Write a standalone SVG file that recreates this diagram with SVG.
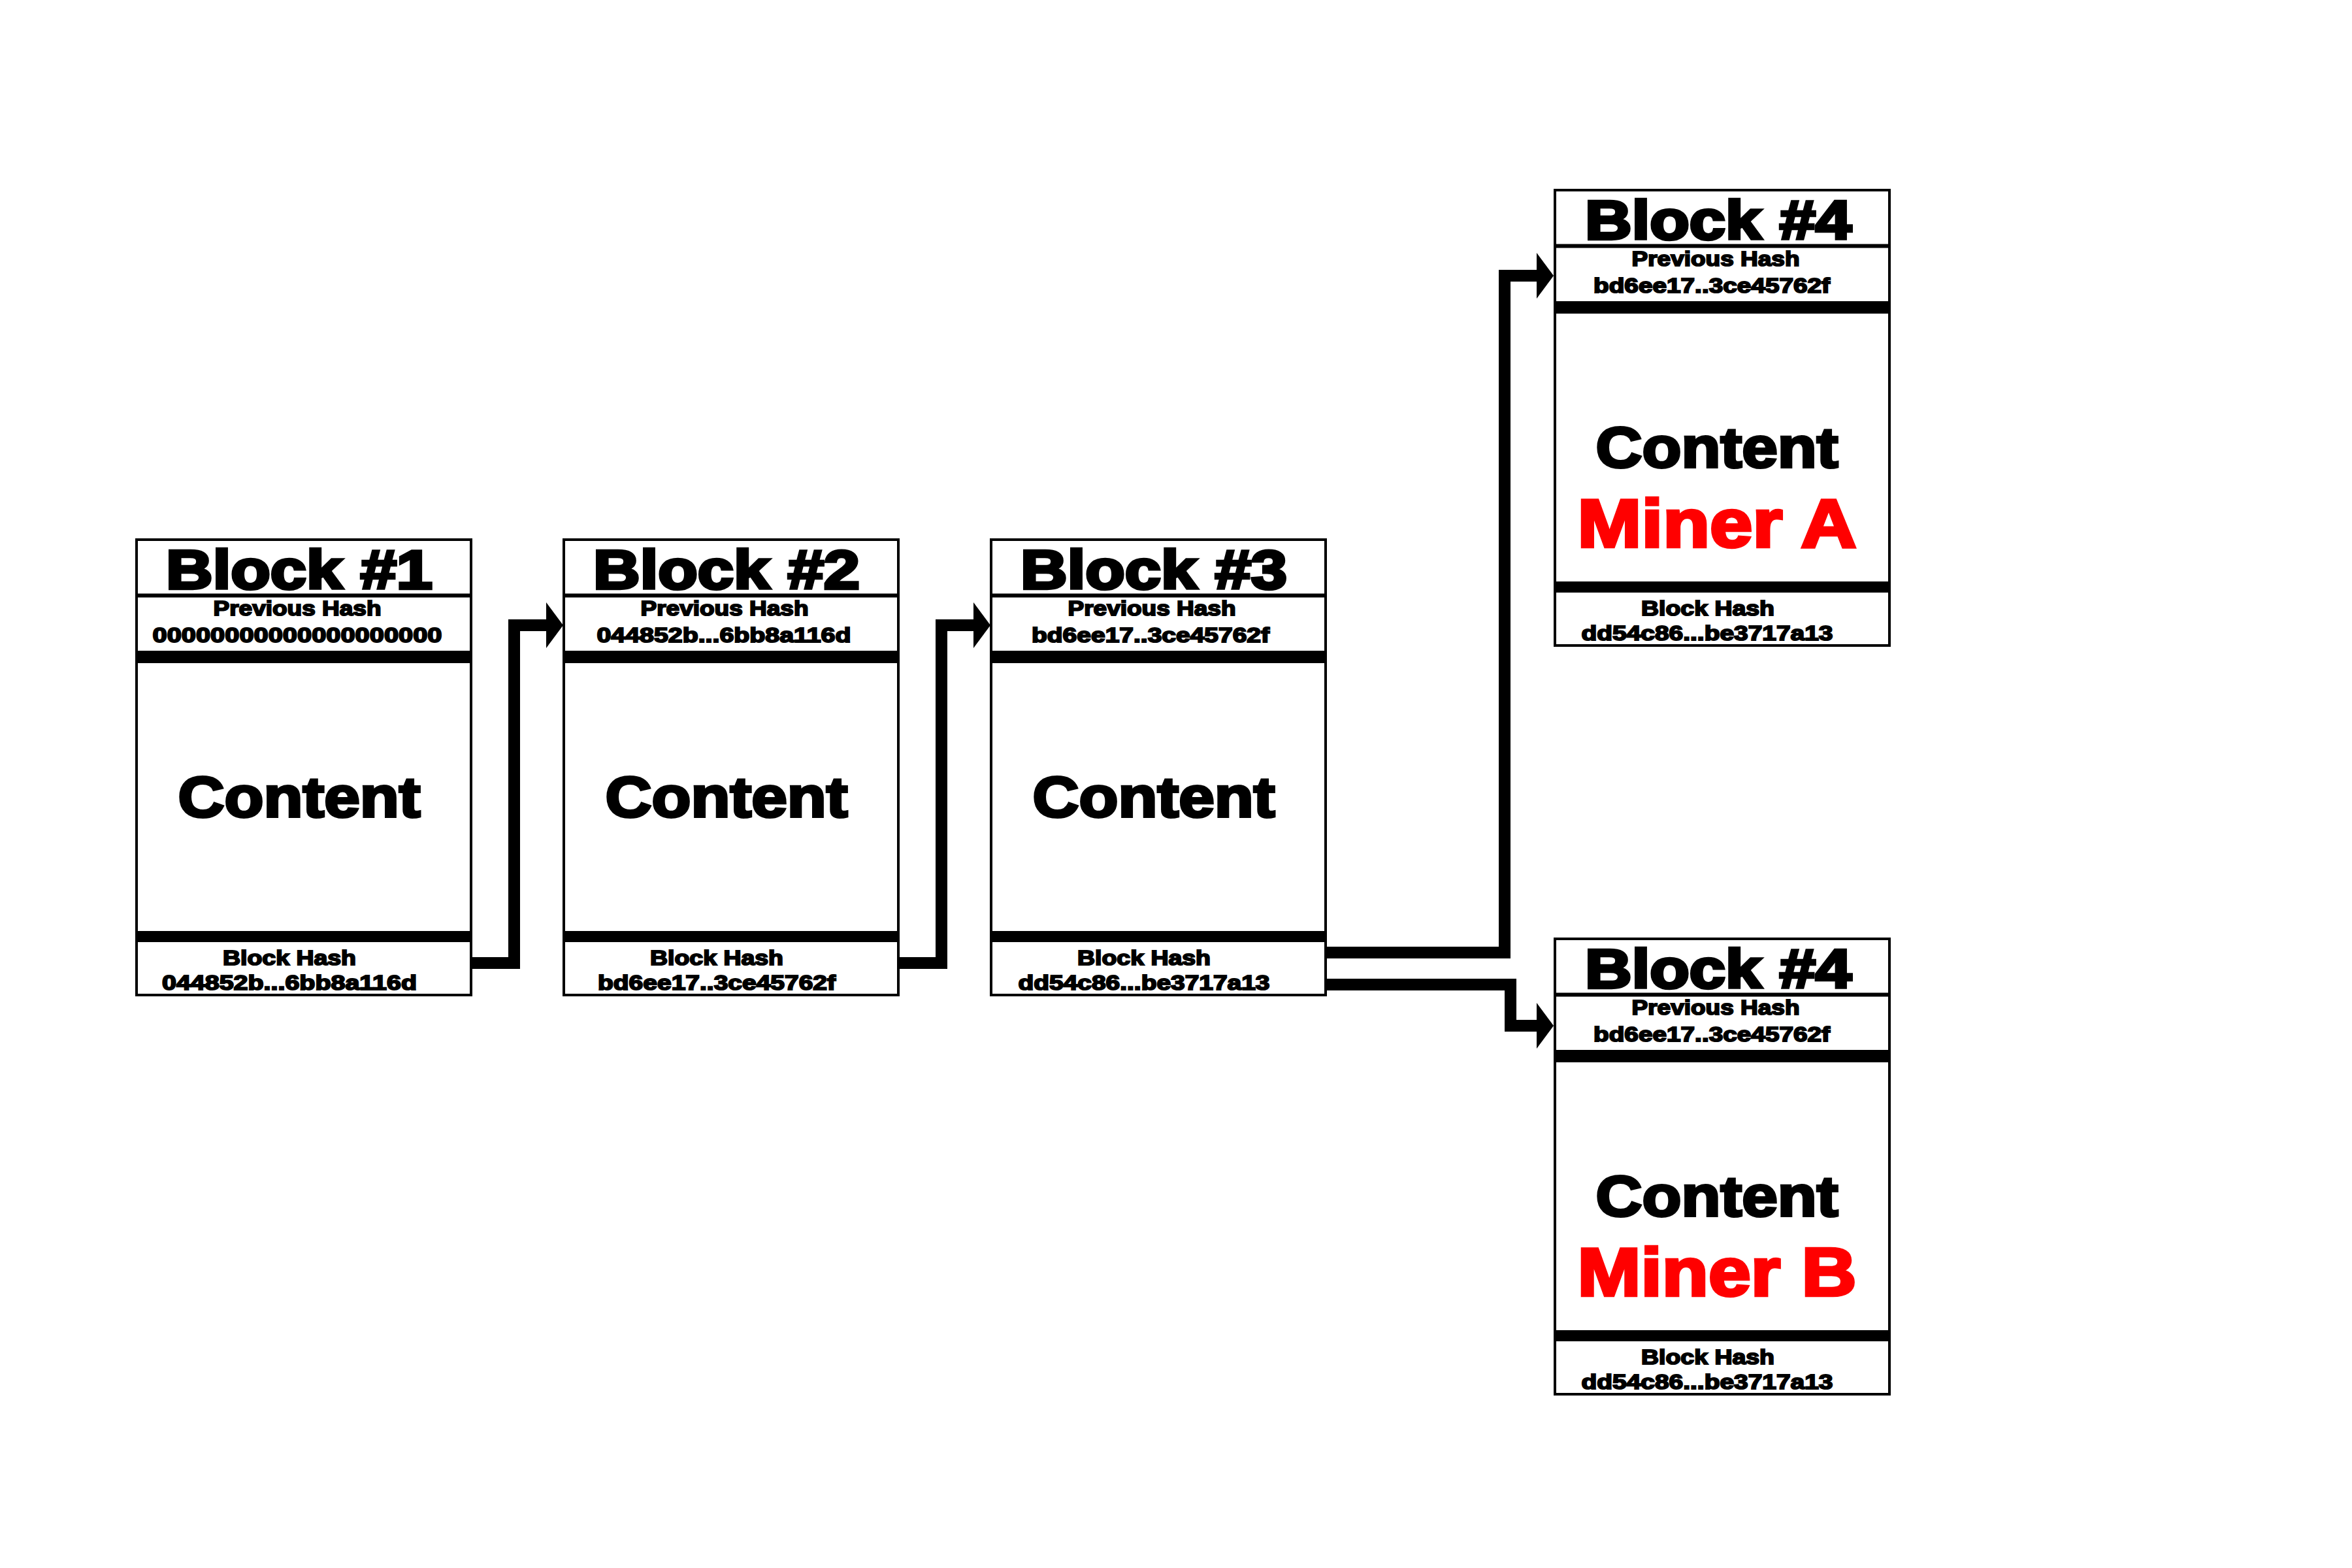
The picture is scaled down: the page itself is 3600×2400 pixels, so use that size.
<svg xmlns="http://www.w3.org/2000/svg" width="3600" height="2400" viewBox="0 0 3600 2400">
<style>
  .box { fill: #ffffff; stroke: #000000; stroke-width: 4; }
  .div { stroke: #000000; stroke-width: 6; }
  .bar { fill: #000000; }
  text { font-family: "Liberation Sans", Arial, sans-serif; font-weight: bold; text-anchor: middle; fill: #000000; stroke: #000000; }
  .title { font-size: 84px; stroke-width: 4.5; }
  .small { font-size: 32px; stroke-width: 2; }
  .content { font-size: 88px; stroke-width: 4; }
  .miner { font-size: 103px; stroke-width: 4.5; fill: #ff0000; stroke: #ff0000; }
  .conn { fill: none; stroke: #000000; stroke-width: 18; stroke-linejoin: miter; }
  .head { fill: #000000; }
</style>
<rect x="0" y="0" width="3600" height="2400" fill="#ffffff"/>

<g id="block1" transform="translate(209,826)">
  <rect class="box" x="0" y="0" width="512" height="697"/>
  <line class="div" x1="0" y1="85.5" x2="512" y2="85.5"/>
  <rect class="bar" x="0" y="170" width="512" height="19"/>
  <rect class="bar" x="0" y="599" width="512" height="17"/>
  <text class="title" x="249" y="75" textLength="408" lengthAdjust="spacingAndGlyphs">Block #1</text>
  <text class="small" x="246" y="116" textLength="257" lengthAdjust="spacingAndGlyphs">Previous Hash</text>
  <text class="small" x="246" y="157" textLength="443" lengthAdjust="spacingAndGlyphs">00000000000000000000</text>
  <text class="content" x="249" y="424" textLength="371" lengthAdjust="spacingAndGlyphs">Content</text>
  <text class="small" x="234" y="651" textLength="204" lengthAdjust="spacingAndGlyphs">Block Hash</text>
  <text class="small" x="234" y="689" textLength="390" lengthAdjust="spacingAndGlyphs">044852b...6bb8a116d</text>
</g>

<g id="block2" transform="translate(863,826)">
  <rect class="box" x="0" y="0" width="512" height="697"/>
  <line class="div" x1="0" y1="85.5" x2="512" y2="85.5"/>
  <rect class="bar" x="0" y="170" width="512" height="19"/>
  <rect class="bar" x="0" y="599" width="512" height="17"/>
  <text class="title" x="249" y="75" textLength="408" lengthAdjust="spacingAndGlyphs">Block #2</text>
  <text class="small" x="246" y="116" textLength="257" lengthAdjust="spacingAndGlyphs">Previous Hash</text>
  <text class="small" x="245" y="157" textLength="389" lengthAdjust="spacingAndGlyphs">044852b...6bb8a116d</text>
  <text class="content" x="249" y="424" textLength="371" lengthAdjust="spacingAndGlyphs">Content</text>
  <text class="small" x="234" y="651" textLength="204" lengthAdjust="spacingAndGlyphs">Block Hash</text>
  <text class="small" x="234" y="689" textLength="364" lengthAdjust="spacingAndGlyphs">bd6ee17..3ce45762f</text>
</g>

<g id="block3" transform="translate(1517,826)">
  <rect class="box" x="0" y="0" width="512" height="697"/>
  <line class="div" x1="0" y1="85.5" x2="512" y2="85.5"/>
  <rect class="bar" x="0" y="170" width="512" height="19"/>
  <rect class="bar" x="0" y="599" width="512" height="17"/>
  <text class="title" x="249" y="75" textLength="408" lengthAdjust="spacingAndGlyphs">Block #3</text>
  <text class="small" x="246" y="116" textLength="257" lengthAdjust="spacingAndGlyphs">Previous Hash</text>
  <text class="small" x="244" y="157" textLength="364" lengthAdjust="spacingAndGlyphs">bd6ee17..3ce45762f</text>
  <text class="content" x="249" y="424" textLength="371" lengthAdjust="spacingAndGlyphs">Content</text>
  <text class="small" x="234" y="651" textLength="204" lengthAdjust="spacingAndGlyphs">Block Hash</text>
  <text class="small" x="234" y="689" textLength="385" lengthAdjust="spacingAndGlyphs">dd54c86...be3717a13</text>
</g>

<g id="block4a" transform="translate(2380,291)">
  <rect class="box" x="0" y="0" width="512" height="697"/>
  <line class="div" x1="0" y1="85.5" x2="512" y2="85.5"/>
  <rect class="bar" x="0" y="170" width="512" height="19"/>
  <rect class="bar" x="0" y="599" width="512" height="17"/>
  <text class="title" x="250" y="75" textLength="408" lengthAdjust="spacingAndGlyphs">Block #4</text>
  <text class="small" x="246" y="116" textLength="257" lengthAdjust="spacingAndGlyphs">Previous Hash</text>
  <text class="small" x="240" y="157" textLength="362" lengthAdjust="spacingAndGlyphs">bd6ee17..3ce45762f</text>
  <text class="content" x="248" y="424" textLength="371" lengthAdjust="spacingAndGlyphs">Content</text>
  <text class="miner" x="248" y="546" textLength="427" lengthAdjust="spacingAndGlyphs">Miner A</text>
  <text class="small" x="234" y="651" textLength="204" lengthAdjust="spacingAndGlyphs">Block Hash</text>
  <text class="small" x="233" y="689" textLength="385" lengthAdjust="spacingAndGlyphs">dd54c86...be3717a13</text>
</g>

<g id="block4b" transform="translate(2380,1437)">
  <rect class="box" x="0" y="0" width="512" height="697"/>
  <line class="div" x1="0" y1="85.5" x2="512" y2="85.5"/>
  <rect class="bar" x="0" y="170" width="512" height="19"/>
  <rect class="bar" x="0" y="599" width="512" height="17"/>
  <text class="title" x="250" y="75" textLength="408" lengthAdjust="spacingAndGlyphs">Block #4</text>
  <text class="small" x="246" y="116" textLength="257" lengthAdjust="spacingAndGlyphs">Previous Hash</text>
  <text class="small" x="240" y="157" textLength="362" lengthAdjust="spacingAndGlyphs">bd6ee17..3ce45762f</text>
  <text class="content" x="248" y="424" textLength="371" lengthAdjust="spacingAndGlyphs">Content</text>
  <text class="miner" x="248" y="546" textLength="427" lengthAdjust="spacingAndGlyphs">Miner B</text>
  <text class="small" x="234" y="651" textLength="204" lengthAdjust="spacingAndGlyphs">Block Hash</text>
  <text class="small" x="233" y="689" textLength="385" lengthAdjust="spacingAndGlyphs">dd54c86...be3717a13</text>
</g>

<g id="connectors">
  <path class="conn" d="M723,1474 H787 V957 H840"/>
  <polygon class="head" points="836,922 862,957 836,992"/>
  <path class="conn" d="M1377,1474 H1441 V957 H1494"/>
  <polygon class="head" points="1490,922 1516,957 1490,992"/>
  <path class="conn" d="M2031,1458 H2303 V422 H2356"/>
  <polygon class="head" points="2352,387 2378,422 2352,457"/>
  <path class="conn" d="M2031,1507 H2312 V1570 H2356"/>
  <polygon class="head" points="2352,1535 2378,1570 2352,1605"/>
</g>
</svg>
